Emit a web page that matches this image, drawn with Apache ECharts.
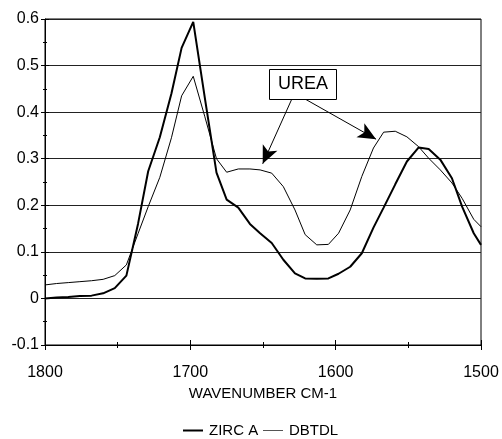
<!DOCTYPE html>
<html>
<head>
<meta charset="utf-8">
<script src="https://cdn.jsdelivr.net/npm/echarts@6/dist/echarts.min.js"></script>
<style>html,body{margin:0;padding:0;background:#fff;}#c{width:502px;height:439px;}</style>
</head>
<body>
<div id="c"></div>
<script>
var wavenumbers = [1800,1792,1784,1776,1768,1760,1752,1744,1736,1729,1721,1713,1706,1698,1690,1682,1675,1667,1659,1652,1644,1636,1628,1621,1613,1605,1598,1590,1582,1574,1567,1559,1551,1543,1536,1528,1520,1513,1505,1500];
var zircA = [0.000,0.002,0.003,0.005,0.006,0.011,0.022,0.049,0.160,0.273,0.346,0.440,0.538,0.594,0.430,0.270,0.212,0.195,0.160,0.140,0.119,0.083,0.054,0.043,0.042,0.043,0.053,0.068,0.097,0.152,0.195,0.245,0.294,0.324,0.321,0.298,0.258,0.197,0.140,0.115];
var dbtdl = [0.029,0.032,0.034,0.036,0.038,0.041,0.049,0.072,0.139,0.197,0.260,0.345,0.435,0.477,0.390,0.300,0.271,0.278,0.278,0.276,0.269,0.240,0.190,0.137,0.115,0.116,0.140,0.190,0.262,0.323,0.357,0.359,0.347,0.326,0.301,0.276,0.248,0.215,0.170,0.154];
var seriesNames = ['ZIRC A','DBTDL'];
var xTitle = 'WAVENUMBER CM-1';
var noteText = 'UREA';
// annotation in data coordinates
var noteBox = [[1645.6,0.493],[1599.3,0.428]];
var arrows = [
  [[1629.1,0.4355],[1650.2,0.289]],
  [[1620.4,0.427],[1572.2,0.342]]
];

function pairs(xs, ys){ return xs.map(function(x,i){ return [x, ys[i]]; }); }

var FONT = 'Liberation Sans, Arial, sans-serif';
var chart = echarts.init(document.getElementById('c'), null, {renderer:'canvas'});
var axisBase = {
  type:'value', min:1500, max:1800, interval:100, inverse:true,
};
var legendBase = {
  top:423, itemWidth:20, padding:0, icon:'rect',
  textStyle:{fontFamily:FONT,fontSize:15,color:'#000',padding:[0,0,0,1]},
  itemStyle:{color:'#000'}
};
var option = {
  animation:false,
  backgroundColor:'#fff',
  grid:{left:45,right:21,top:19,bottom:94,show:true,borderColor:'#000',borderWidth:1,backgroundColor:'transparent'},
  legend:[
    Object.assign({}, legendBase, {data:[seriesNames[0]], left:183, itemHeight:2}),
    Object.assign({}, legendBase, {data:[seriesNames[1]], left:263, itemHeight:1, itemStyle:{color:'#555'}})
  ],
  xAxis:[
    Object.assign({}, axisBase, {
      position:'bottom',
      name:xTitle, nameLocation:'middle', nameGap:40,
      nameTextStyle:{fontFamily:FONT,fontSize:15,color:'#000'},
      axisLine:{onZero:false,lineStyle:{color:'#000',width:1}},
      axisTick:{show:true,length:5,lineStyle:{color:'#000'}},
      minorTick:{show:true,splitNumber:2,length:3,lineStyle:{color:'#000'}},
      axisLabel:{fontFamily:FONT,fontSize:16,color:'#000',margin:20,
        formatter:function(v){ return String(Math.round(v)); }},
      splitLine:{show:false}
    }),
    Object.assign({}, axisBase, {
      position:'bottom',
      axisLine:{show:false,onZero:false},
      axisTick:{show:true,inside:true,length:5,lineStyle:{color:'#000'}},
      minorTick:{show:true,splitNumber:2,length:3,lineStyle:{color:'#000'}},
      axisLabel:{show:false},
      splitLine:{show:false}
    })
  ],
  yAxis:[
    {
      type:'value', min:-0.1, max:0.6, interval:0.1,
      axisLine:{show:true,onZero:false,lineStyle:{color:'#000',width:1}},
      axisTick:{show:true,length:4,lineStyle:{color:'#000'}},
      minorTick:{show:true,splitNumber:2,length:2,lineStyle:{color:'#000'}},
      axisLabel:{fontFamily:FONT,fontSize:16,color:'#000',margin:6,
        formatter:function(v){ return String(Math.round(v*10)/10); }},
      splitLine:{show:true,lineStyle:{color:'#222',width:1}}
    },
    {
      type:'value', min:-0.1, max:0.6, interval:0.1, position:'left',
      axisLine:{show:false,onZero:false},
      axisTick:{show:true,inside:true,length:4,lineStyle:{color:'#000'}},
      minorTick:{show:true,splitNumber:2,length:2,lineStyle:{color:'#000'}},
      axisLabel:{show:false},
      splitLine:{show:false}
    }
  ],
  series:[
    {
      name:seriesNames[0], type:'line', data:pairs(wavenumbers,zircA),
      symbol:'none', lineStyle:{color:'#000',width:2}, itemStyle:{color:'#000'},
      clip:true, z:3
    },
    {
      name:seriesNames[1], type:'line', data:pairs(wavenumbers,dbtdl),
      symbol:'none', lineStyle:{color:'#000',width:1}, itemStyle:{color:'#000'},
      clip:true, z:3,
      markLine:{
        silent:true, symbol:['none','arrow'], symbolSize:[12,18],
        label:{show:false},
        lineStyle:{color:'#000',width:1,type:'solid'},
        itemStyle:{color:'#000'},
        data:arrows.map(function(a){ return [{coord:a[0]},{coord:a[1]}]; })
      }
    }
  ]
};
chart.setOption(option);
var p1 = chart.convertToPixel({xAxisIndex:0,yAxisIndex:0}, noteBox[0]);
var p2 = chart.convertToPixel({xAxisIndex:0,yAxisIndex:0}, noteBox[1]);
var bx = Math.round(p1[0])+0.5, by = Math.round(p1[1])+0.5;
var bw = Math.round(p2[0]-p1[0]), bh = Math.round(p2[1]-p1[1]);
chart.setOption({graphic:[
  {type:'rect', shape:{x:bx,y:by,width:bw,height:bh}, style:{fill:'#fff',stroke:'#000',lineWidth:1}, z:10},
  {type:'text', x:bx+bw/2, y:by+bh/2, style:{text:noteText,fontFamily:FONT,fontSize:18,fill:'#000',align:'center',verticalAlign:'middle'}, z:11}
]});
</script>
</body>
</html>
